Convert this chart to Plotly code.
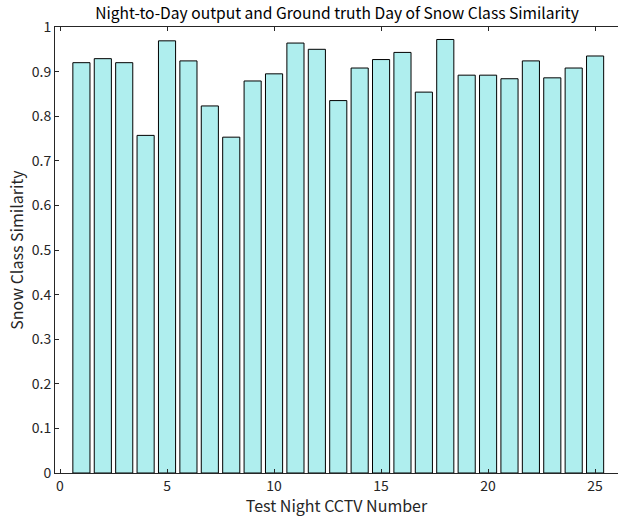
import plotly.graph_objects as go

cctv_numbers = list(range(1, 26))
similarity = [0.920, 0.929, 0.920, 0.757, 0.969, 0.924, 0.823, 0.753, 0.879, 0.895,
              0.964, 0.950, 0.835, 0.908, 0.927, 0.943, 0.854, 0.972, 0.892, 0.892,
              0.884, 0.924, 0.886, 0.908, 0.935]
x_ticks = [0, 5, 10, 15, 20, 25]
y_ticks = [0, 0.1, 0.2, 0.3, 0.4, 0.5, 0.6, 0.7, 0.8, 0.9, 1]
y_tick_labels = ["0", "0.1", "0.2", "0.3", "0.4", "0.5", "0.6", "0.7", "0.8", "0.9", "1"]

FONT = "Noto Sans CJK JP"
AX = "#262626"

fig = go.Figure(go.Bar(
    x=cctv_numbers, y=similarity, width=0.8,
    marker=dict(color="#AFEEEE", line=dict(color="#000000", width=1)),
))

fig.update_layout(
    width=618, height=517,
    margin=dict(l=55, r=0, t=27, b=44, autoexpand=False),
    paper_bgcolor="white", plot_bgcolor="white",
    showlegend=False,
    font=dict(family=FONT, color=AX, size=14),
    title=dict(text="Night-to-Day output and Ground truth Day of Snow Class Similarity",
               x=0.5454, xanchor="center", y=0.973, yanchor="middle",
               font=dict(family=FONT, size=15.6, color="#000000")),
    yaxis2=dict(overlaying="y", side="right", range=[0, 1], tickvals=y_ticks,
                ticks="inside", ticklen=4, tickcolor=AX, showline=False,
                showticklabels=False, showgrid=False, zeroline=False, automargin=False),
)
fig.update_xaxes(
    range=[-0.234, 26.07], tickvals=x_ticks, ticks="inside", ticklen=4,
    showline=True, linecolor=AX, linewidth=1, mirror="ticks", tickcolor=AX,
    showgrid=False, zeroline=False, automargin=False,
    title=dict(text="Test Night CCTV Number", font=dict(family=FONT, size=16, color=AX), standoff=5),
    tickfont=dict(family=FONT, size=14, color=AX),
)
fig.update_layout(yaxis=dict(
    range=[0, 1], tickvals=y_ticks, ticktext=y_tick_labels, ticks="inside", ticklen=4,
    showline=True, linecolor=AX, linewidth=1, mirror=False, tickcolor=AX,
    showgrid=False, zeroline=False, automargin=False,
    title=dict(text="Snow Class Similarity", font=dict(family=FONT, size=16, color=AX), standoff=4),
    tickfont=dict(family=FONT, size=14, color=AX),
))

fig.write_html("out.html", config={"displayModeBar": False},
               post_script="document.body.style.margin='0';document.body.style.overflow='hidden';")
